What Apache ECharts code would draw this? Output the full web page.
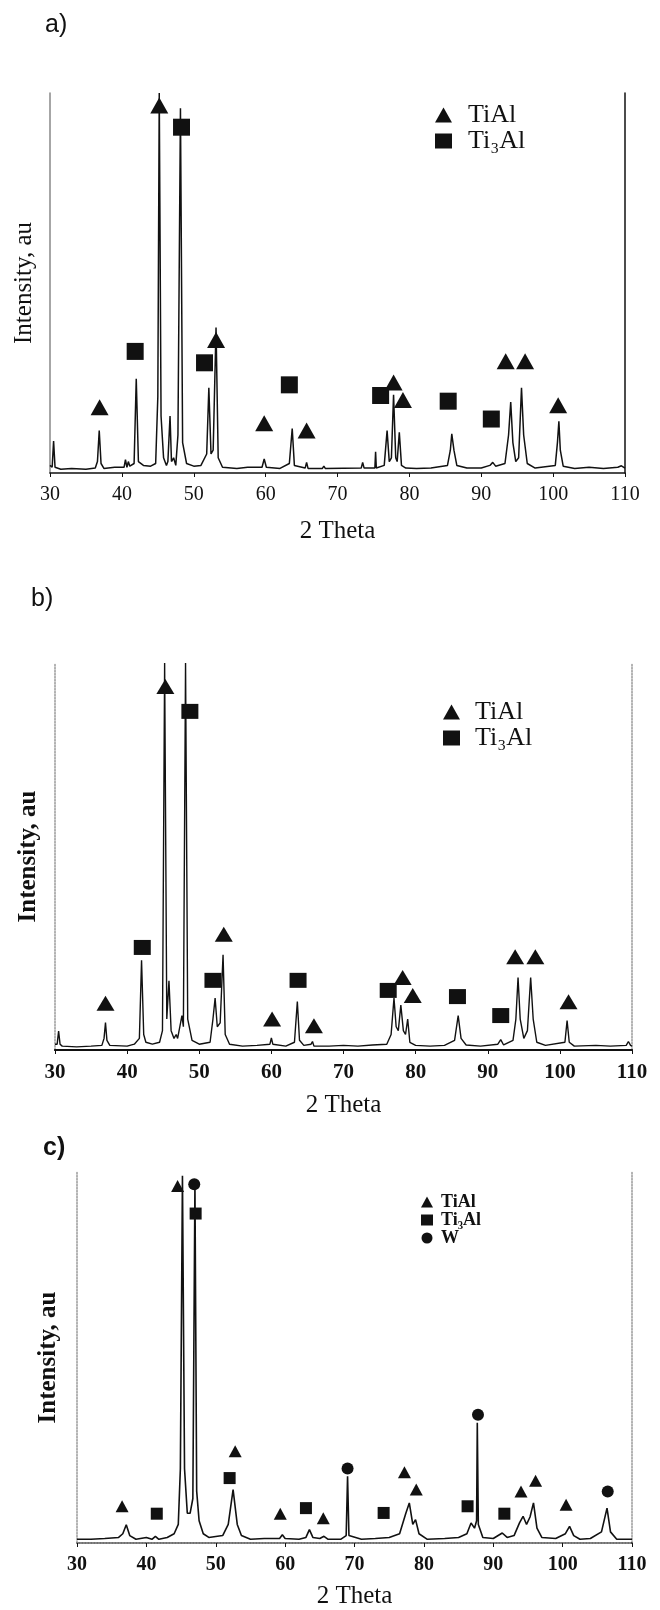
<!DOCTYPE html>
<html>
<head>
<meta charset="utf-8">
<script src="https://cdn.jsdelivr.net/npm/echarts@6/dist/echarts.min.js"></script>
<style>
    html, body {margin: 0; padding: 0; background: #fff;}
    #chart {width: 660px; height: 1610px;}
</style>
</head>
<body>
<div id="chart"></div>
<script>
// 2 theta tick labels (same for all three patterns)
let thetaTicks = [30, 40, 50, 60, 70, 80, 90, 100, 110];

// a) pattern, [2theta, intensity]
let profileA = [[30,2],[30.3,1.5],[30.5,8.4],[30.7,1.5],[31.5,1],[33,1.2],[35,1],[36.3,1.3],[36.6,3],[36.85,11.2],[37.1,2.5],
    [37.5,1.2],[39,1.5],[40.3,1.5],[40.5,3.5],[40.7,1.5],[40.9,3],[41.1,1.8],[41.7,2.5],[42.0,24.8],[42.3,3],[43,2],[44,1.8],
    [44.7,2.5],[45.0,20],[45.2,100],[45.45,15],[45.8,4],[46.2,2],[46.4,3],[46.7,15],[46.9,3],[47.2,4],[47.5,2],[47.8,10],
    [48.15,96],[48.45,8],[49,2.5],[50,1.8],[51,2],[51.8,5],[52.1,22.4],[52.4,5],[52.7,6],[53.1,38.3],[53.4,4],[54,1.5],
    [56,1.2],[57.5,1.5],[59.5,1.5],[59.8,3.7],[60.1,1.5],[62,1.2],[63.3,2.5],[63.7,11.7],[64.0,2],[65.5,1.3],[65.7,2.8],
    [65.9,1.2],[67.9,1.2],[68.1,1.8],[68.3,1.2],[73.3,1.3],[73.5,2.8],[73.7,1.3],[75.2,1.3],[75.3,5.6],[75.4,1.3],[76.5,2],
    [76.9,11.2],[77.2,3],[77.5,4],[77.8,20.6],[78.1,4],[78.3,3],[78.6,10.7],[78.9,2],[79.5,1.3],[81,1.2],[83,1.3],[85.3,2],
    [85.7,6],[85.9,10.3],[86.2,6],[86.6,2],[88,1.3],[90,1.3],[91.2,2],[91.6,2.8],[92,1.8],[93.3,2.5],[93.8,10],[94.1,18.7],
    [94.4,8],[94.8,3],[95.2,4],[95.6,22.4],[95.9,10],[96.4,2.5],[97.5,1.3],[100.3,2],[100.6,8],[100.8,13.6],[101.0,6],
    [101.4,1.8],[103,1.2],[105,1.5],[107,1.2],[109,1.5],[109.5,1.9],[110,1.3]];
let tiAlA = [[36.9,17.3],[45.2,96.7],[53.1,35],[59.8,13.1],[65.7,11.2],[77.8,23.8],[79.1,19.2],[93.4,29.4],[96.1,29.4],[100.7,17.8]];
let ti3AlA = [[41.85,32],[48.3,91],[51.5,29],[63.3,23.2],[76.0,20.4],[85.4,18.9],[91.4,14.2]];

// b) pattern
let profileB = [[30,1.5],[30.3,1.5],[30.5,4.9],[30.7,1.5],[31,1],[33,0.8],[35,1],[36.5,1.2],[36.8,3],[37.0,7.1],[37.2,2.5],
    [37.6,1.2],[40,1],[41,1.5],[41.7,3],[42.0,23.2],[42.3,4],[42.6,2],[43.5,1.5],[44.5,2],[44.9,5],[45.2,100],[45.5,8],
    [45.8,17.9],[46.1,5],[46.5,3],[46.8,4],[47.0,3],[47.6,8.9],[47.8,6],[48.1,100],[48.4,8],[49,2.5],[50,1.5],[51.5,2],
    [51.9,8],[52.2,13.4],[52.5,6],[52.9,7],[53.3,24.6],[53.6,4],[54.2,1.5],[56,1],[58,1.2],[59.8,1.5],[60.0,3.1],[60.2,1.5],
    [62,1],[63.2,2],[63.6,12.5],[63.9,2.5],[64.5,1.2],[65.5,1.5],[65.7,2.2],[65.9,1],[68,1],[70,1.2],[72,1],[74,1.3],[76,1.5],
    [76.6,4],[77.0,13.4],[77.3,6],[77.6,5],[77.95,11.6],[78.3,5],[78.6,4],[78.9,8],[79.2,2],[80,1.2],[82,1],[84,1.2],
    [85.4,2.5],[85.9,8.9],[86.3,3],[87,1.3],[89,1],[91.4,1.5],[91.8,2.7],[92.2,1.3],[93.5,2.5],[93.9,8],[94.2,18.75],
    [94.5,8],[95,3],[95.5,5],[95.95,18.75],[96.3,8],[96.8,2],[98,1.2],[100.7,2],[101.0,7.6],[101.3,2],[102,1],[105,1.2],
    [107,1],[109.2,1.2],[109.5,2.2],[109.8,1.2],[110,1]];
let tiAlB = [[37.0,12.05],[45.3,93.9],[53.4,29.9],[60.1,8.0],[65.9,6.25],[78.2,18.75],[79.6,14.1],[93.8,24.1],[96.6,24.1],[101.2,12.5]];
let ti3AlB = [[42.1,26.5],[48.7,87.5],[51.9,18.0],[63.7,18.0],[76.2,15.4],[85.8,13.8],[91.8,8.9]];

// c) pattern
let profileC = [[30,1],[32,1],[34,1.2],[36,1.5],[36.6,2.5],[37.1,4.9],[37.6,2],[38.5,1],[40,1.5],[40.8,1],[41.3,1.8],[41.8,1],
    [43,1.5],[44,2.5],[44.6,5],[44.9,20],[45.2,99],[45.5,20],[45.9,8],[46.3,8],[46.7,12],[47.0,97],[47.25,14],[47.6,6],
    [48.2,2.5],[49,1.5],[51,2],[51.8,5],[52.5,14.4],[53.1,5],[53.7,2],[55,1],[57,1.2],[59.2,1.2],[59.6,2.2],[60,1.2],[62,1],
    [63,1.5],[63.5,3.6],[64,1.5],[65,1.2],[65.6,1.8],[66.2,1],[68,1],[68.8,2],[69.0,18],[69.2,2],[71,1],[73,1.2],[75,1.5],
    [76.5,2.5],[77.4,8],[77.9,10.8],[78.4,5],[78.8,6.3],[79.3,2.5],[80.5,1],[83,1.2],[85,1.5],[86.2,2.5],[86.8,5.4],
    [87.3,4],[87.6,6],[87.7,32.4],[87.85,5],[88.5,1.5],[90,1.2],[91.3,2.7],[92,1.5],[93,2],[93.8,5.5],[94.3,7.2],[94.8,5],
    [95.3,7],[95.8,10.8],[96.3,4],[97,1.5],[99,1.2],[100.4,2.5],[101.0,4.5],[101.6,2],[102.5,1],[104,1.2],[105.6,3],
    [106.4,9.4],[106.9,3],[107.8,1],[110,1]];
let tiAlC = [[36.5,9.9],[44.5,96.2],[52.8,24.7],[59.3,7.9],[65.5,6.7],[77.2,19.1],[78.9,14.4],[94.0,13.9],[96.1,16.8],[100.5,10.3]];
let ti3AlC = [[41.5,7.9],[47.1,88.8],[52.0,17.5],[63.0,9.4],[74.2,8.1],[86.3,9.9],[91.6,7.9]];
let wC = [[46.9,96.7],[69.0,20.1],[87.8,34.6],[106.5,13.9]];

let SERIF = '"Liberation Serif", "Times New Roman", serif';
let SANS = '"Liberation Sans", Arial, sans-serif';

let xBottom = function (grid, bold, size, gap) {
    return {
        type: 'value', gridIndex: grid, min: thetaTicks[0], max: thetaTicks[thetaTicks.length - 1],
        interval: thetaTicks[1] - thetaTicks[0], position: 'bottom',
        axisLine: {lineStyle: {color: '#111', width: 1.6}},
        axisTick: {length: 4, lineStyle: {color: '#111'}},
        axisLabel: {color: '#111', fontFamily: SERIF, fontSize: size, fontWeight: bold ? 'bold' : 'normal', margin: 12},
        splitLine: {show: false},
        name: '2 Theta', nameLocation: 'middle', nameGap: gap,
        nameTextStyle: {color: '#111', fontFamily: SERIF, fontSize: 25}
    };
};
let xTop = function (grid, color, type, width) {
    return {
        type: 'value', gridIndex: grid, min: 30, max: 110, position: 'top',
        axisLine: {lineStyle: {color: color, type: type, width: width}},
        axisTick: {show: false}, axisLabel: {show: false}, splitLine: {show: false}
    };
};
let yAxisOf = function (grid, side, color, type, name, gap, bold) {
    let ax = {
        type: 'value', gridIndex: grid, min: 0, max: 100, position: side,
        axisLine: {show: true, lineStyle: {color: color, type: type, width: 1.5}},
        axisTick: {show: false}, axisLabel: {show: false}, splitLine: {show: false}
    };
    if (name) {
        ax.name = name;
        ax.nameLocation = 'middle';
        ax.nameGap = gap;
        ax.nameTextStyle = {color: '#111', fontFamily: SERIF, fontSize: 25, fontWeight: bold ? 'bold' : 'normal'};
    }
    return ax;
};
let profile = function (name, idx, data, width) {
    return {
        name: name, type: 'line', xAxisIndex: idx.x, yAxisIndex: idx.y, data: data,
        showSymbol: false, lineStyle: {color: '#111', width: width}, z: 2, silent: true
    };
};
let marks = function (name, idx, data, symbol, size) {
    return {
        name: name, type: 'scatter', xAxisIndex: idx.x, yAxisIndex: idx.y, data: data,
        symbol: symbol, symbolSize: size, itemStyle: {color: '#111', opacity: 1}, z: 3, silent: true
    };
};
let legendOf = function (left, top, names, icons, size, pad, lh, iw, ih, bold) {
    return {
        orient: 'vertical', left: left, top: top, itemGap: 0, itemWidth: iw, itemHeight: ih,
        selectedMode: false,
        data: names.map(function (n, i) { return {name: n, icon: icons[i], itemStyle: {color: '#111', opacity: 1}}; }),
        formatter: function (n) { return '{n|' + n + '}'; },
        textStyle: {
            rich: {n: {fontFamily: SERIF, fontSize: size, lineHeight: lh, color: '#111',
                fontWeight: bold ? 'bold' : 'normal', padding: [0, 0, 0, pad]}}
        }
    };
};

let chart = echarts.init(document.getElementById('chart'), null, {renderer: 'canvas'});
let option = {
    animation: false,
    backgroundColor: '#fff',
    title: [
        {text: 'a)', left: 40, top: 8, textStyle: {fontFamily: SANS, fontSize: 25, fontWeight: 'normal', color: '#111'}},
        {text: 'b)', left: 26, top: 582, textStyle: {fontFamily: SANS, fontSize: 25, fontWeight: 'normal', color: '#111'}},
        {text: 'c)', left: 38, top: 1131, textStyle: {fontFamily: SANS, fontSize: 25, fontWeight: 'bold', color: '#111'}}
    ],
    legend: [
        legendOf(430, 97, ['TiAl', 'Ti₃Al'], ['triangle', 'rect'], 26, 11, 33, 17, 15, false),
        legendOf(438, 694, ['TiAl', 'Ti₃Al'], ['triangle', 'rect'], 26, 10, 30, 17, 15, false),
        legendOf(416, 1188, ['TiAl', 'Ti₃Al', 'W'], ['triangle', 'rect', 'circle'], 18, 3, 23, 12, 11, true)
    ],
    grid: [
        {left: 50, top: 93, width: 575, height: 380},
        {left: 55, top: 663, width: 577, height: 387},
        {left: 77, top: 1172, width: 555, height: 372}
    ],
    xAxis: [
        xBottom(0, false, 20, 46),
        xBottom(1, true, 21, 43),
        xTop(1, '#111', 'solid', 2),
        xBottom(2, true, 20, 41),
        xTop(2, '#999', 'dotted', 1.5)
    ],
    yAxis: [
        yAxisOf(0, 'left', '#888', 'solid', 'Intensity, au', 13, false),
        yAxisOf(0, 'right', '#111', 'solid'),
        yAxisOf(1, 'left', '#999', 'dotted', 'Intensity, au', 14, true),
        yAxisOf(1, 'right', '#999', 'dotted'),
        yAxisOf(2, 'left', '#999', 'dotted', 'Intensity, au', 16, true),
        yAxisOf(2, 'right', '#999', 'dotted')
    ],
    series: [
        profile('a', {x: 0, y: 0}, profileA, 1.5),
        marks('TiAl', {x: 0, y: 0}, tiAlA, 'triangle', [18, 16]),
        marks('Ti₃Al', {x: 0, y: 0}, ti3AlA, 'rect', 17),
        profile('b', {x: 1, y: 2}, profileB, 1.4),
        marks('TiAl', {x: 1, y: 2}, tiAlB, 'triangle', [18, 15]),
        marks('Ti₃Al', {x: 1, y: 2}, ti3AlB, 'rect', [17, 15]),
        profile('c', {x: 3, y: 4}, profileC, 1.6),
        marks('TiAl', {x: 3, y: 4}, tiAlC, 'triangle', [13, 12]),
        marks('Ti₃Al', {x: 3, y: 4}, ti3AlC, 'rect', 12),
        marks('W', {x: 3, y: 4}, wC, 'circle', 12)
    ]
};
chart.setOption(option);
</script>
</body>
</html>
